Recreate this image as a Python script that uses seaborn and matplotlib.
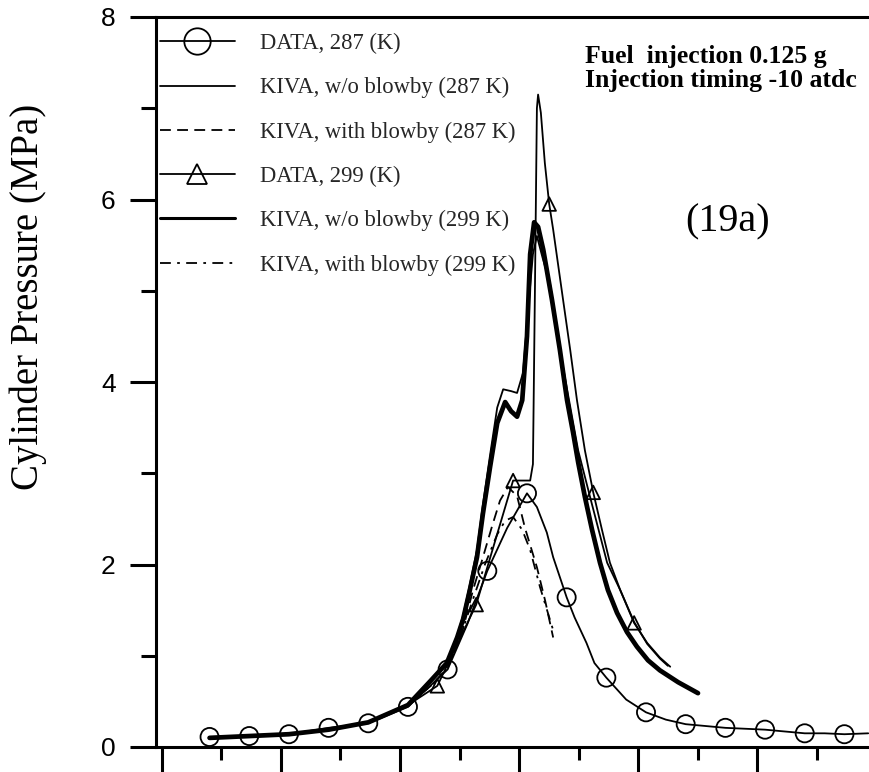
import numpy as np
import matplotlib
matplotlib.use('Agg')
import matplotlib.pyplot as plt
import seaborn as sns
from matplotlib.lines import Line2D
from matplotlib.ticker import MultipleLocator, NullFormatter

sns.set_style('ticks')
plt.rcParams['font.family'] = ['Liberation Serif', 'DejaVu Serif']

# ---------------- data (crank angle, deg ; pressure, MPa) ----------------
# DATA 287 K : measured points (circles) and the curve through them
data287_x = [-78, -68, -58, -48, -38, -28, -18, -8, 2, 12, 22, 32, 42, 52, 62, 72, 82]
data287_y = [0.11, 0.12, 0.14, 0.21, 0.26, 0.44, 0.85, 1.93, 2.78, 1.64, 0.76, 0.38, 0.25, 0.21, 0.19, 0.15, 0.14]
curve287_x = [-78, -68, -58, -48, -38, -28, -18, -13, -8, -3, 2, 4.5, 7, 8.6, 12, 14, 17, 19, 22, 27,
              32, 37, 42, 47, 52, 57, 62, 67, 72, 77, 82, 88]
curve287_y = [0.11, 0.12, 0.14, 0.21, 0.26, 0.44, 0.85, 1.35, 1.93, 2.40, 2.78, 2.63, 2.35, 2.08, 1.64, 1.42,
              1.14, 0.92, 0.76, 0.52, 0.38, 0.30, 0.25, 0.23, 0.21, 0.20, 0.19, 0.17, 0.15, 0.15, 0.14, 0.15]

# DATA 299 K : measured points (triangles) and the curve through them
data299_x = [-20.6, -10.8, -1.5, 7.6, 18.7, 29.0]
data299_y = [0.67, 1.56, 2.92, 5.95, 2.79, 1.36]
curve299_x = [-78, -68, -58, -48, -38, -28, -20.6, -10.8, -1.5, 2.8, 3.5, 4.0, 4.5, 4.8, 5.5, 6.5, 7.6,
              8.6, 9.8, 11.1, 12.9, 14.6, 16.6, 18.7, 20.9, 22.9, 25.5, 29.0, 32.3, 35.5, 38.1]
curve299_y = [0.10, 0.12, 0.14, 0.19, 0.27, 0.46, 0.67, 1.56, 2.92, 2.92, 3.10, 5.00, 7.00, 7.15, 6.95, 6.40,
              5.95, 5.67, 5.30, 4.90, 4.35, 3.80, 3.25, 2.79, 2.38, 2.02, 1.72, 1.36, 1.14, 0.98, 0.88]

# KIVA w/o blowby, 287 K (thin solid)
kiva287_x = [-78, -68, -58, -48, -38, -28, -22.4, -18.2, -15.6, -14.1, -12.4, -10.6, -9.1, -7.3, -5.5, -4.0,
             -2.0, -0.5, 1.0, 2.3, 3.5, 4.5, 6.0, 7.8, 11.1, 14.9, 17.9, 22.2, 25.5, 29.0, 32.3, 35.5, 37.5]
kiva287_y = [0.10, 0.12, 0.14, 0.19, 0.27, 0.46, 0.72, 0.93, 1.22, 1.44, 1.78, 2.16, 2.66, 3.20, 3.72, 3.92,
             3.90, 3.88, 4.10, 4.80, 5.40, 5.60, 5.35, 5.08, 4.16, 3.25, 2.74, 2.02, 1.72, 1.37, 1.13, 0.97, 0.89]

# KIVA w/o blowby, 299 K (thick solid)
kiva299_x = [-78, -68, -58, -48, -38, -28, -22.4, -18.2, -15.6, -14.1, -12.4, -10.6, -9.1, -7.3, -5.5, -3.5,
             -2.0, -0.5, 0.8, 2.0, 2.8, 3.8, 4.8, 6.1, 8.3, 10.3, 12.1, 13.6, 14.9, 16.6, 18.4, 20.4, 22.4,
             24.7, 27.2, 29.7, 32.5, 35.5, 40.1, 45.1]
kiva299_y = [0.10, 0.12, 0.14, 0.19, 0.27, 0.46, 0.72, 0.92, 1.20, 1.40, 1.72, 2.08, 2.56, 3.07, 3.55, 3.78,
             3.68, 3.62, 3.80, 4.50, 5.40, 5.75, 5.70, 5.45, 4.90, 4.35, 3.80, 3.45, 3.12, 2.74, 2.38, 2.02, 1.72,
             1.47, 1.26, 1.10, 0.95, 0.84, 0.71, 0.59]

# KIVA with blowby, 287 K (dashed)
blow287_x = [-78, -68, -58, -48, -38, -28, -21.7, -17.9, -14.1, -11.6, -9.3, -6.8, -4.8, -2.8, -0.5, 1.5,
             4.5, 6.6, 8.6]
blow287_y = [0.10, 0.12, 0.14, 0.19, 0.27, 0.46, 0.69, 0.88, 1.30, 1.72, 2.05, 2.42, 2.70, 2.85, 2.75, 2.40,
             1.97, 1.60, 1.20]

# KIVA with blowby, 299 K (dash-dot)
blow299_x = [-78, -68, -58, -48, -38, -28, -21.7, -17.9, -14.1, -11.6, -8.6, -5.5, -3.5, -1.5, 0.8, 2.8,
             5.3, 8.6]
blow299_y = [0.10, 0.12, 0.14, 0.19, 0.27, 0.46, 0.69, 0.87, 1.30, 1.62, 2.00, 2.33, 2.48, 2.52, 2.38, 2.16,
             1.75, 1.28]

legend_labels = ['DATA, 287 (K)', 'KIVA, w/o blowby (287 K)', 'KIVA, with blowby (287 K)',
                 'DATA, 299 (K)', 'KIVA, w/o blowby (299 K)', 'KIVA, with blowby (299 K)']

# ---------------- figure ----------------
W, H = 869, 772
fig = plt.figure(figsize=(W / 100, H / 100), dpi=100)
fig.patch.set_facecolor('white')
ax = fig.add_axes([156 / W, 1 - 747 / H, (W - 156) / W, (747 - 17) / H])
ax.set_facecolor('white')

INK = 'black'
THIN = 1.3
THICK = 3.4
DASH = (0, (6, 3.5))
DASHDOT = (0, (6, 3.5, 1.5, 3.5))


def draw(x, y, **kw):
    sns.lineplot(x=np.asarray(x, float), y=np.asarray(y, float), ax=ax, color=INK,
                 estimator=None, sort=False, legend=False, **kw)


draw(curve287_x, curve287_y, linewidth=THIN)
draw(kiva287_x, kiva287_y, linewidth=THIN)
draw(blow287_x, blow287_y, linewidth=THIN, linestyle=DASH)
draw(curve299_x, curve299_y, linewidth=THIN)
draw(kiva299_x, kiva299_y, linewidth=THICK, solid_capstyle='round', solid_joinstyle='round')
draw(blow299_x, blow299_y, linewidth=THIN, linestyle=DASHDOT)

sns.scatterplot(x=data287_x, y=data287_y, ax=ax, marker='o', s=170, color='none',
                edgecolor=INK, linewidth=1.3, legend=False, zorder=5)
sns.scatterplot(x=data299_x, y=data299_y, ax=ax, marker='^', s=95, color='none',
                edgecolor=INK, linewidth=1.3, legend=False, zorder=5)

ax.set_xlim(-91.5, 88.2)
ax.set_ylim(0, 8)
ax.set_xlabel('')
ax.set_ylabel('')

ax.xaxis.set_major_locator(MultipleLocator(30))
ax.xaxis.set_minor_locator(MultipleLocator(15))
ax.xaxis.set_major_formatter(NullFormatter())
ax.yaxis.set_major_locator(MultipleLocator(2))
ax.yaxis.set_minor_locator(MultipleLocator(1))

ax.tick_params(axis='x', which='major', direction='out', length=18, width=2.2, color=INK)
ax.tick_params(axis='x', which='minor', direction='out', length=9, width=2.2, color=INK)
ax.tick_params(axis='y', which='major', direction='out', length=19, width=2.2, color=INK,
               labelsize=19, pad=10, labelfontfamily='Liberation Sans', labelcolor=INK)
ax.tick_params(axis='y', which='minor', direction='out', length=11, width=2.2, color=INK)

for side in ['left', 'bottom', 'top']:
    ax.spines[side].set_visible(True)
    ax.spines[side].set_linewidth(2.2)
    ax.spines[side].set_color(INK)
ax.spines['right'].set_visible(False)

# legend
handles = [
    Line2D([], [], color=INK, lw=THIN, marker='o', ms=19, mfc='none', mec=INK, mew=1.3),
    Line2D([], [], color=INK, lw=THIN),
    Line2D([], [], color=INK, lw=THIN, linestyle=DASH),
    Line2D([], [], color=INK, lw=THIN, marker='^', ms=15, mfc='none', mec=INK, mew=1.3),
    Line2D([], [], color=INK, lw=2.2),
    Line2D([], [], color=INK, lw=THIN, linestyle=DASHDOT),
]
ax.legend(handles, legend_labels, loc='upper left', bbox_to_anchor=(160 / W, 1 - 33 / H),
          bbox_transform=fig.transFigure, frameon=False, fontsize=16.3, handlelength=3.3,
          handletextpad=1.1, labelspacing=1.02, borderpad=0, borderaxespad=0)

# annotations
fig.text(585 / W, 1 - 63 / H, 'Fuel  injection 0.125 g', fontsize=18.5, fontweight='bold',
         ha='left', va='baseline', color=INK)
fig.text(585 / W, 1 - 87 / H, 'Injection timing -10 atdc', fontsize=18.5, fontweight='bold',
         ha='left', va='baseline', color=INK)
fig.text(728 / W, 1 - 222 / H, '(19a)', fontsize=29, ha='center', va='center', color=INK)
fig.text(28 / W, 1 - 297 / H, 'Cylinder Pressure (MPa)', fontsize=28, rotation=90,
         ha='center', va='center', color=INK)

fig.savefig('out.png', dpi=100, facecolor='white')
